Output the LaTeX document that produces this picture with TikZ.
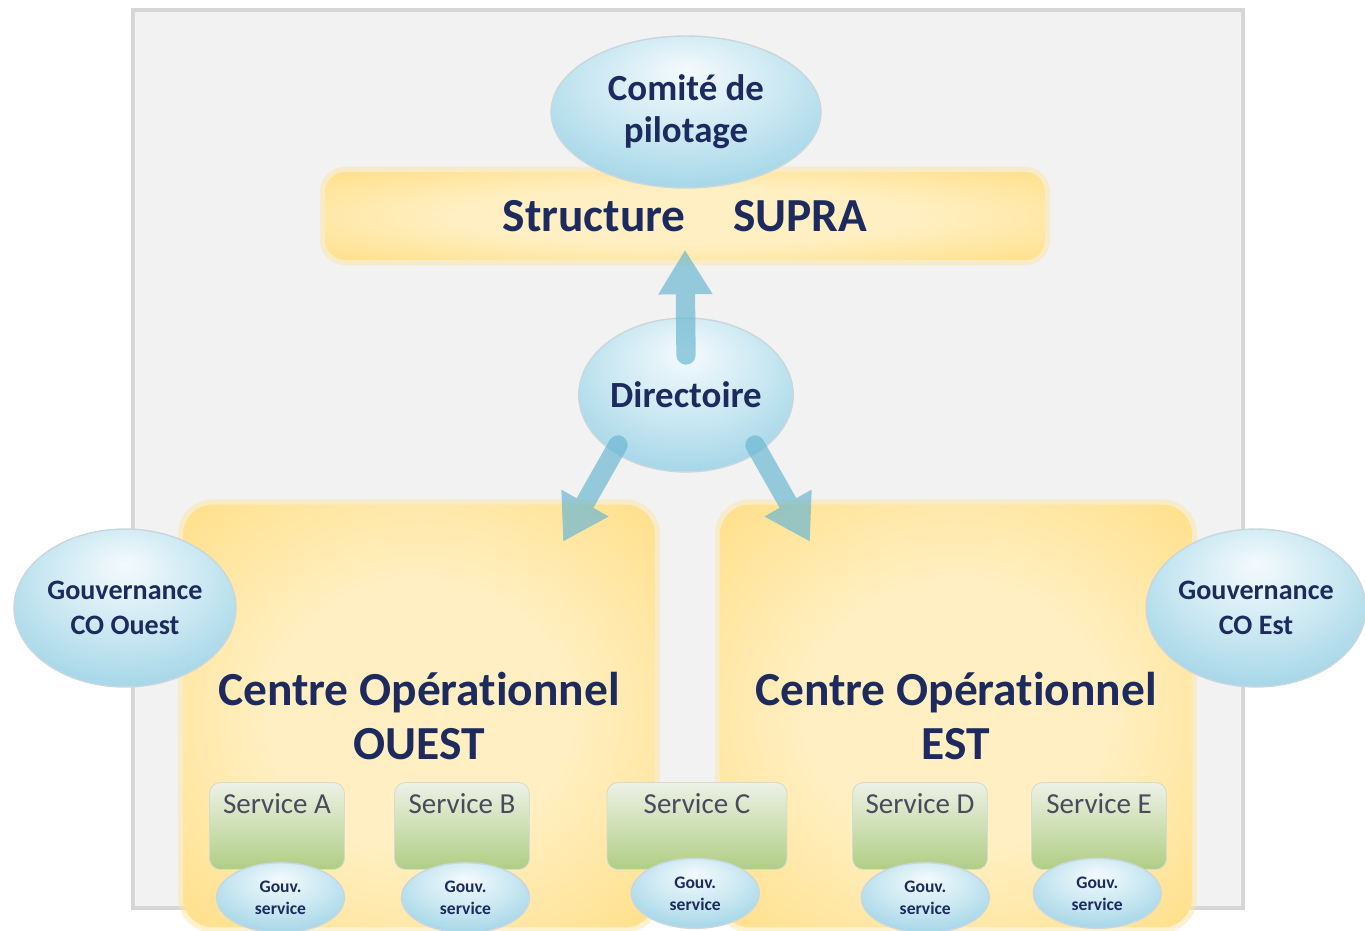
\documentclass[tikz,border=0pt]{standalone}
\usepackage{fontspec}
\setmainfont{Carlito}[Ligatures={NoCommon}]
\usetikzlibrary{positioning,arrows.meta,shapes.geometric}

\definecolor{fond}{HTML}{F2F2F2}
\definecolor{cadregris}{HTML}{D6D6D6}
\definecolor{marine}{HTML}{1C2A5E}
\definecolor{gristexte}{HTML}{4A4A5C}
\definecolor{bleublanc}{HTML}{F4FAFD}
\definecolor{bleupale}{HTML}{CBE8F2}
\definecolor{bleu}{HTML}{8CCAE0}
\definecolor{bleufonce}{HTML}{5FADCA}
\definecolor{bord}{HTML}{CAD6DE}
\definecolor{jaune}{HTML}{FFDD82}
\definecolor{jaunepale}{HTML}{FFEFC2}
\definecolor{jaunemoyen}{HTML}{FFE6A2}
\definecolor{vertclair}{HTML}{EDF1E6}
\definecolor{vert}{HTML}{B0CE84}
\definecolor{vertbord}{HTML}{D6DCCB}
\definecolor{fleche}{HTML}{6DB8D2}

\pgfdeclareradialshading{bulle}{\pgfpoint{0bp}{14bp}}{color(0bp)=(bleublanc); color(18bp)=(bleupale); color(42bp)=(bleu); color(64bp)=(bleufonce)}
\pgfdeclareradialshading{lueur}{\pgfpoint{0bp}{0bp}}{color(0bp)=(jaunepale); color(16bp)=(jaunepale); color(38bp)=(jaune); color(50bp)=(jaunemoyen); color(75bp)=(jaunemoyen)}

\tikzset{
    bulle/.style={ellipse, shading=bulle, draw=bord, line width=0.8pt, inner sep=0pt, align=center, text=marine, font=\bfseries},
    zone/.style={rounded corners=0.6cm, shading=lueur, inner sep=0pt, align=center, text=marine,
        font=\fontsize{27}{31}\selectfont\bfseries, preaction={draw=jaunemoyen, line width=6pt, opacity=0.5}},
    servbox/.style={rounded corners=0.22cm, top color=vertclair, bottom color=vert, draw=vertbord, line width=0.5pt,
        minimum width=2.7cm, minimum height=1.74cm},
    servtexte/.style={text=gristexte, font=\fontsize{16.5}{18}\selectfont},
    gouv/.style={bulle, minimum width=2.56cm, minimum height=1.4cm, font=\fontsize{10}{12.5}\selectfont\bfseries},
    fl/.style={draw=fleche, line width=11pt, line cap=round, -{Triangle[width=31pt,length=25pt,line width=0pt]}},
    flgroupe/.style={transparency group, opacity=0.7}
}

\begin{document}
\begin{tikzpicture}[x=0.02cm, y=-0.02cm]
        \useasboundingbox (0,0) rectangle (1365,930);
        % fond
        \node[fill=fond, draw=cadregris, line width=2.5pt, minimum width=22.2cm, minimum height=17.96cm, inner sep=0pt] (cadre) at (688,459){};

        % zones jaunes
        \node[zone, minimum width=14.4cm, minimum height=1.76cm, rounded corners=0.4cm] (supra) at (685,216){Structure\hspace{1em}SUPRA};
        \node[zone, minimum width=9.44cm, minimum height=8.46cm] (ouest) at (419,716){Centre Opérationnel\\OUEST};
        \node[zone, minimum width=9.44cm, minimum height=8.46cm] (est) at (956,716){Centre Opérationnel\\EST};

        % bulles
        \node[bulle, minimum width=5.4cm, minimum height=3.04cm, font=\fontsize{21}{24}\selectfont\bfseries] (comite) at (686,112){Comité de\\pilotage};
        \node[bulle, minimum width=4.26cm, minimum height=3.08cm, font=\fontsize{21}{24}\selectfont\bfseries] (directoire) at (686,395){Directoire};
        \node[bulle, minimum width=4.44cm, minimum height=3.16cm, font=\fontsize{16}{20}\selectfont\bfseries] (gouvOuest) at (125,608){Gouvernance\\CO Ouest};
        \node[bulle, minimum width=4.36cm, minimum height=3.16cm, font=\fontsize{16}{20}\selectfont\bfseries] (gouvEst) at (1256,608){Gouvernance\\CO Est};

        % services
        \node[servbox, label={[servtexte, anchor=north, yshift=-3pt]north:Service A}] (servA) at (277,826){};
        \node[servbox, label={[servtexte, anchor=north, yshift=-3pt]north:Service B}] (servB) at (462,826){};
        \node[servbox, minimum width=3.6cm, label={[servtexte, anchor=north, yshift=-3pt]north:Service C}] (servC) at (697,826){};
        \node[servbox, label={[servtexte, anchor=north, yshift=-3pt]north:Service D}] (servD) at (920,826){};
        \node[servbox, label={[servtexte, anchor=north, yshift=-3pt]north:Service E}] (servE) at (1099,826){};

        \node[gouv, below=-4.5pt of servA, xshift=2pt] (gouvA){Gouv.\\service};
        \node[gouv, below=-4.5pt of servB, xshift=2pt] (gouvB){Gouv.\\service};
        \node[gouv, below=-7pt of servC, xshift=-1pt] (gouvC){Gouv.\\service};
        \node[gouv, below=-4.5pt of servD, xshift=3pt] (gouvD){Gouv.\\service};
        \node[gouv, below=-7pt of servE, xshift=-1pt] (gouvE){Gouv.\\service};

        % fleches
        \begin{scope}[flgroupe]
            \draw[fl] ([shift={(0,-40)}]directoire.center) -- ([shift={(0,-10)}]supra.south);
        \end{scope}
        \begin{scope}[flgroupe]
            \draw[fl] ([shift={(-68,50)}]directoire.center) -- ([shift={(-92,37)}]ouest.north east);
        \end{scope}
        \begin{scope}[flgroupe]
            \draw[fl] ([shift={(69,50)}]directoire.center) -- ([shift={(90,37)}]est.north west);
        \end{scope}
    \end{tikzpicture}
\end{document}
